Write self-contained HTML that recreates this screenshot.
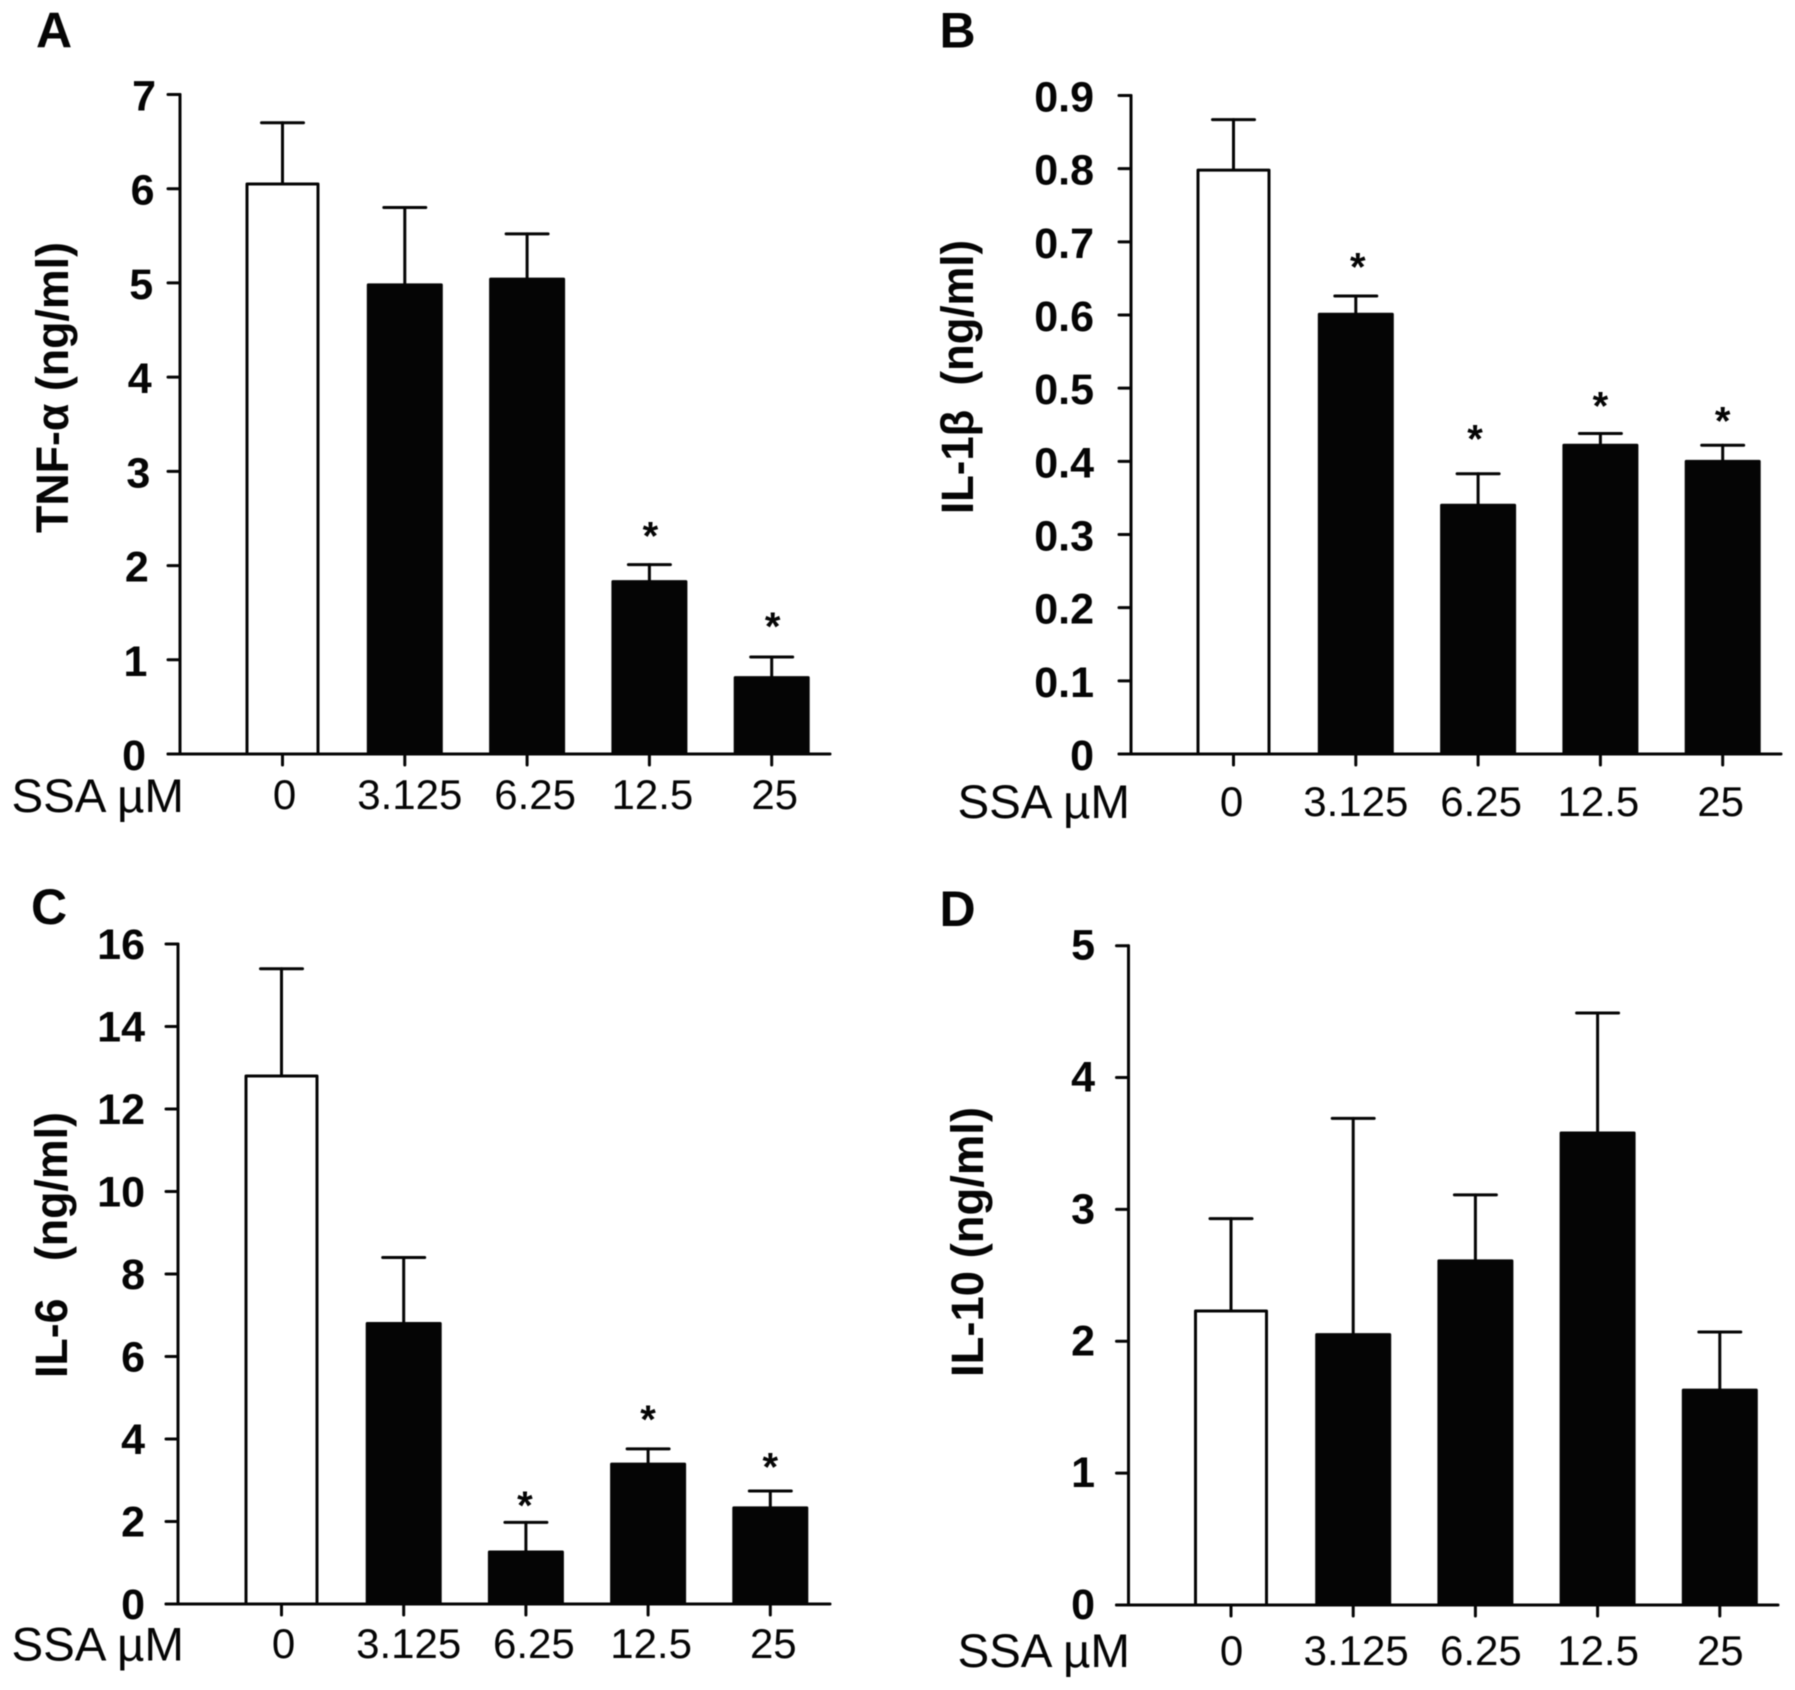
<!DOCTYPE html>
<html lang="en">
<head>
<meta charset="utf-8">
<title>Cytokine levels by SSA dose</title>
<style>
  html, body { margin: 0; padding: 0; background: #fff; }
  #figure { display: block; width: 1795px; height: 1690px; filter: blur(0.6px); }
  text { font-family: "Liberation Sans", "DejaVu Sans", sans-serif; fill: #050505; }
</style>
</head>
<body>
<svg id="figure" xmlns="http://www.w3.org/2000/svg" width="1795" height="1690" viewBox="0 0 1795 1690"></svg>
<script>
const categories = ["0", "3.125", "6.25", "12.5", "25"];

const tnfTicks = [0, 1, 2, 3, 4, 5, 6, 7];
const tnfValues = [6.05, 4.98, 5.04, 1.83, 0.81];
const tnfUpper = [6.70, 5.80, 5.52, 2.01, 1.03];
const tnfStars = [null, null, null, 2.36, 1.40];

const il1bTicks = [0, 0.1, 0.2, 0.3, 0.4, 0.5, 0.6, 0.7, 0.8, 0.9];
const il1bValues = [0.798, 0.601, 0.340, 0.422, 0.400];
const il1bUpper = [0.867, 0.626, 0.383, 0.438, 0.422];
const il1bStars = [null, 0.672, 0.437, 0.482, 0.461];

const il6Ticks = [0, 2, 4, 6, 8, 10, 12, 14, 16];
const il6Values = [12.8, 6.8, 1.26, 3.39, 2.33];
const il6Upper = [15.4, 8.4, 1.98, 3.76, 2.74];
const il6Stars = [null, null, 2.50, 4.58, 3.43];

const il10Ticks = [0, 1, 2, 3, 4, 5];
const il10Values = [2.23, 2.05, 2.61, 3.58, 1.63];
const il10Upper = [2.93, 3.69, 3.11, 4.49, 2.07];
const il10Stars = [null, null, null, null, null];

const panels = [
  { id: "a", letter: "A", lx: 36, ly: 47.5, ticks: tnfTicks, values: tnfValues, upper: tnfUpper, stars: tnfStars,
    axisX: 180, base: 754, top: 94.5, first: 282.5, step: 122.3, right: 830, tickRight: 146, tickSlant: 10, tickDy: 16,
    catNudge: [2, 5, 8, 3, 3], starNudge: [0, 0, 0, 1, 1], catBase: 809, ssaBase: 812, ssaRight: 184,
    title: "TNF-\u03b1 (ng/ml)", titleX: 68, titleBottom: 533, titleLen: 291 },
  { id: "b", letter: "B", lx: 939.5, ly: 47.5, ticks: il1bTicks, values: il1bValues, upper: il1bUpper, stars: il1bStars,
    axisX: 1131, base: 754, top: 95.5, first: 1233.5, step: 122.3, right: 1781, tickRight: 1094, tickSlant: 0, tickDy: 16,
    catNudge: [-2, 0, 3, -2, -2], starNudge: [0, 2, -3, 0, 0], catBase: 816, ssaBase: 818, ssaRight: 1130,
    title: "IL-1\u03b2\u00a0\u00a0(ng/ml)", titleX: 973, titleBottom: 514, titleLen: 274 },
  { id: "c", letter: "C", lx: 31, ly: 924, ticks: il6Ticks, values: il6Values, upper: il6Upper, stars: il6Stars,
    axisX: 178, base: 1604, top: 944, first: 281.5, step: 122.2, right: 830, tickRight: 145, tickSlant: 0, tickDy: 15,
    catNudge: [2, 5, 8, 3, 3], starNudge: [0, 0, -1, 0, 0], catBase: 1658, ssaBase: 1660.7, ssaRight: 184,
    title: "IL-6\u00a0\u00a0\u00a0(ng/ml)", titleX: 67, titleBottom: 1378, titleLen: 266 },
  { id: "d", letter: "D", lx: 939.5, ly: 926, ticks: il10Ticks, values: il10Values, upper: il10Upper, stars: il10Stars,
    axisX: 1128.5, base: 1605, top: 945.7, first: 1231, step: 122.2, right: 1778, tickRight: 1095, tickSlant: 0, tickDy: 14,
    catNudge: [0.5, 3, 5.5, 0.5, 0.5], starNudge: [0, 0, 0, 0, 0], catBase: 1665, ssaBase: 1667, ssaRight: 1130,
    title: "IL-10 (ng/ml)", titleX: 983, titleBottom: 1377, titleLen: 270 }
];

const svgNS = "http://www.w3.org/2000/svg";
const figure = document.getElementById("figure");

function make(tag, parent, attrs) {
  const node = document.createElementNS(svgNS, tag);
  for (const key in attrs) node.setAttribute(key, attrs[key]);
  parent.appendChild(node);
  return node;
}

function line(parent, x1, y1, x2, y2) {
  return make("line", parent, { x1: x1, y1: y1, x2: x2, y2: y2, stroke: "#050505", "stroke-width": 3, "stroke-linecap": "round" });
}

function drawPanel(p) {
  const yMax = p.ticks[p.ticks.length - 1];
  const yScale = function (v) { return p.base - (v / yMax) * (p.base - p.top); };
  const xScale = function (i) { return p.first + p.step * i; };

  const group = make("g", figure, {});
  
  

  const letter = make("text", group, { x: p.lx, y: p.ly, "font-size": 50, "font-weight": "bold" });
  letter.textContent = p.letter;
  
  

  const title = make("text", group, {
    transform: "translate(" + p.titleX + "," + p.titleBottom + ") rotate(-90)",
    "font-size": 45, "font-weight": "bold", textLength: p.titleLen, lengthAdjust: "spacingAndGlyphs"
  });
  title.textContent = p.title;
  
  

  const ssa = make("text", group, { x: p.ssaRight, y: p.ssaBase, "font-size": 47.5, "text-anchor": "end" });
  ssa.textContent = "SSA \u00b5M";
  
  

  p.values.forEach(function (v, i) {
    const cx = xScale(i);
    const whisker = line(group, cx, yScale(v), cx, yScale(p.upper[i]));
    
    

    const cap = line(group, cx - 21, yScale(p.upper[i]), cx + 21, yScale(p.upper[i]));
    
    

    const halfWidth = i === 0 ? 35.5 : 36.5;
    const bar = make("rect", group, {
      x: cx - halfWidth, y: yScale(v), width: halfWidth * 2, height: p.base - yScale(v),
      fill: i === 0 ? "#ffffff" : "#050505", stroke: "#050505", "stroke-width": 3, "stroke-linejoin": "round"
    });
    
    

    const xTick = line(group, cx, p.base, cx, p.base + 11);
    
    

    const catLabel = make("text", group, { x: cx + p.catNudge[i], y: p.catBase, "font-size": 42, "text-anchor": "middle" });
    catLabel.textContent = categories[i];
    
    

    if (p.stars[i] !== null) {
      const star = make("text", group, { x: cx + p.starNudge[i], y: yScale(p.stars[i]) + 18, "font-size": 40, "font-weight": "bold", "text-anchor": "middle" });
      star.textContent = "*";
      
      
    }
  });

  const yAxis = line(group, p.axisX, p.top, p.axisX, p.base);
  
  

  const xAxis = line(group, p.axisX - 12, p.base, p.right, p.base);
  
  

  p.ticks.forEach(function (t) {
    const yTick = line(group, p.axisX - 12, yScale(t), p.axisX, yScale(t));
    
    

    const labelX = p.tickRight + p.tickSlant * (t / yMax);
    const tickLabel = make("text", group, { x: labelX, y: yScale(t) + p.tickDy, "font-size": 43, "font-weight": "bold", "text-anchor": "end" });
    tickLabel.textContent = String(t);
    
    
  });
}

panels.forEach(drawPanel);
</script>
</body>
</html>
